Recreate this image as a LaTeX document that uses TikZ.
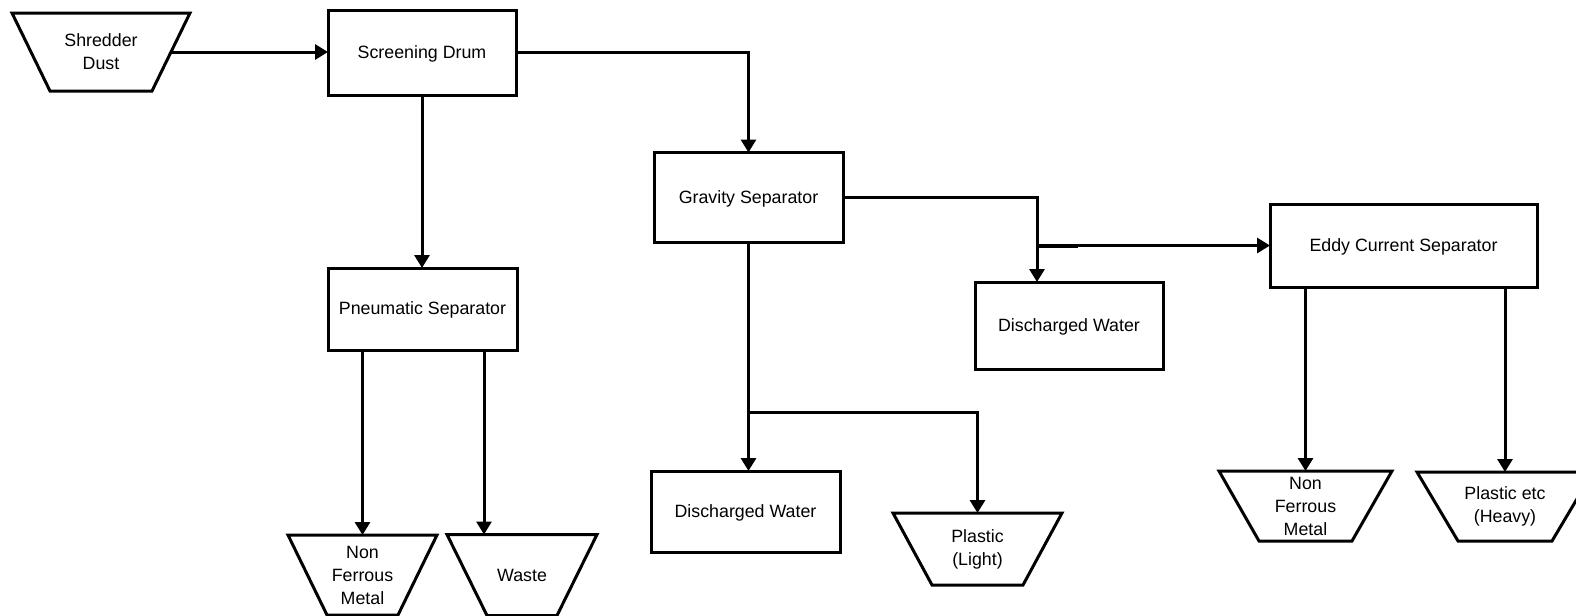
\documentclass[tikz,border=0pt]{standalone}
\usepackage{fontspec}
\setmainfont{Liberation Sans}
\usetikzlibrary{arrows.meta,calc}

\tikzset{
  proc/.style={draw, line width=1.5pt, rectangle, inner sep=0pt, outer sep=0pt,
    align=center, text height=5.6pt, text depth=0pt,
    font=\fontsize{8.9}{11.5}\selectfont},
  hopper/.style={rectangle, inner sep=0pt, outer sep=0pt, align=center,
    font=\fontsize{8.9}{11.5}\selectfont},
  outline/.style={draw, line width=1.5pt, line join=miter},
  flow/.style={line width=1.5pt, -{Triangle[length=6.5pt,width=7.5pt]}},
  pipe/.style={line width=1.5pt}
}

% inverted trapezoid round a hopper node: #1 node name, #2 inset of the bottom corners
\newcommand\hopperoutline[2]{%
  \draw[outline] (#1.north west) -- (#1.north east)
    -- ([xshift=-#2]#1.south east) -- ([xshift=#2]#1.south west) -- cycle;}

\begin{document}
\begin{tikzpicture}[x=0.5pt,y=-0.5pt]
  \useasboundingbox (0,0) rectangle (1576,616);

  % feed
  \node[hopper, minimum width=89pt, minimum height=39pt] (sd) at (101,52) {Shredder\\Dust};
  \hopperoutline{sd}{19pt}

  % process units
  \node[proc, minimum width=94pt, minimum height=42.5pt] (drum) at (422,52.5) {Screening Drum};
  \node[proc, minimum width=94.5pt, minimum height=41pt] (pneu) at (422.5,309) {Pneumatic Separator};
  \node[proc, minimum width=94.5pt, minimum height=45pt] (grav) at (748.5,197.5) {Gravity Separator};
  \node[proc, minimum width=94.5pt, minimum height=40.5pt] (dwl) at (745.5,511.5) {Discharged Water};
  \node[proc, minimum width=94pt, minimum height=43.5pt] (dwr) at (1069,325.5) {Discharged Water};
  \node[proc, minimum width=133.5pt, minimum height=41.5pt] (eddy) at (1403.5,245.5) {Eddy Current Separator};

  % products
  \node[hopper, minimum width=74.5pt, minimum height=40pt] (nfm1) at (362.5,575) {Non\\Ferrous\\Metal};
  \hopperoutline{nfm1}{19.5pt}
  \node[hopper, minimum width=75pt, minimum height=40.5pt] (waste) at (522,575) {Waste};
  \hopperoutline{waste}{20pt}
  \node[hopper, minimum width=84.5pt, minimum height=36pt] (pl) at (977.5,549) {Plastic\\(Light)};
  \hopperoutline{pl}{19.5pt}
  \node[hopper, minimum width=86.5pt, minimum height=35pt] (nfm2) at (1305.5,506) {Non\\Ferrous\\Metal};
  \hopperoutline{nfm2}{20pt}
  \node[hopper, minimum width=88pt, minimum height=34.5pt] (ph) at (1505,506.5) {Plastic etc\\(Heavy)};
  \hopperoutline{ph}{20.5pt}

  % junction points
  \coordinate (sdout) at ([xshift=-9.5pt]sd.east);
  \coordinate (wtop) at ($(waste.north)+(-38,0)$);
  \coordinate (dtop) at ($(dwr.north)+(-32,0)$);
  \coordinate (j1) at (dtop |- eddy.west);
  \coordinate (j2) at ($(grav.south)+(0,170)$);

  % connectors
  \draw[flow] (sdout) -- (sdout -| drum.west);
  \draw[flow] (drum.east) -| (grav.north);
  \draw[flow] (drum.south) -- (drum.south |- pneu.north);
  \draw[flow] (nfm1.north |- pneu.south) -- (nfm1.north);
  \draw[flow] (wtop |- pneu.south) -- (wtop);
  \draw[flow] (grav.east) -| (dtop);
  \draw[flow] (j1) -- (eddy.west);
  \draw[pipe, line width=2pt] (j1) -- ++(41,0);
  \draw[flow] (grav.south) -- (grav.south |- dwl.north);
  \draw[flow] (j2) -| (pl.north);
  \draw[flow] (nfm2.north |- eddy.south) -- (nfm2.north);
  \draw[flow] (ph.north |- eddy.south) -- (ph.north);
\end{tikzpicture}
\end{document}
